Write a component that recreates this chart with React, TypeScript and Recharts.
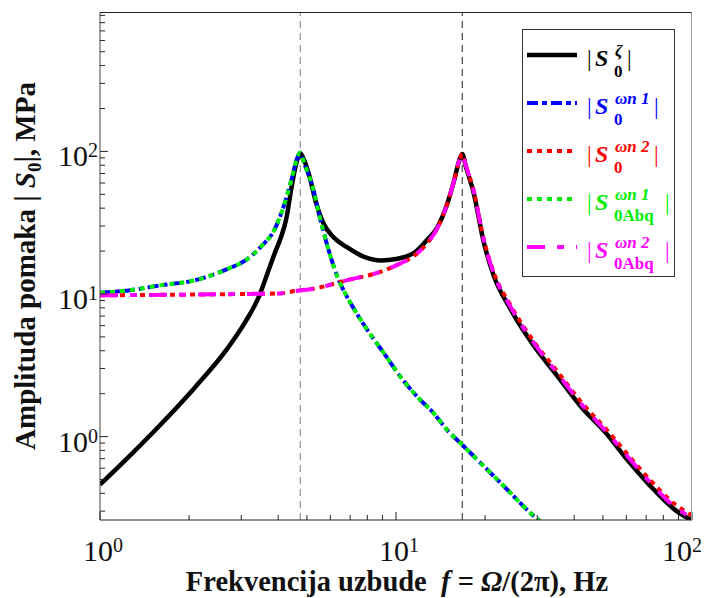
import React from 'react';
import { LineChart, Line, XAxis, YAxis, ReferenceLine } from 'recharts';

// frequency f (Hz) and amplitude |S0| (MPa)
const zetaF = [1, 1.25, 1.6, 2.1, 2.7, 3.1, 3.45, 3.6, 3.9, 4.1, 4.25, 4.45, 4.62, 4.75, 4.88, 5.05, 5.4, 5.7, 6.15, 6.85, 7.8, 8.9, 10, 11.5, 12.7, 13.8, 14.9, 15.7, 16.4, 16.75, 17.2, 18.3, 19.8, 21.4, 24.4, 29.3, 35, 42, 52, 60, 72, 87, 100];
const zetaS = [0.46, 0.72, 1.21, 2.23, 4.17, 6.4, 9.7, 12.3, 19.5, 25.5, 33, 58, 85, 97, 88, 72, 42, 31, 25, 21.2, 18.2, 17.2, 17.6, 19.4, 23.8, 29.4, 42.9, 62, 88, 96, 79, 51, 23, 13.4, 7.8, 4.3, 2.68, 1.64, 1.02, 0.7, 0.455, 0.31, 0.258];

const wn1F = [1, 1.25, 1.6, 2.1, 2.7, 3.1, 3.5, 3.9, 4.2, 4.45, 4.62, 4.75, 4.9, 5.1, 5.27, 5.5, 5.7, 6.0, 6.4, 6.84, 7.4, 8, 9.1, 10.35, 11.8, 13.4, 14.9, 16.75, 22.6, 29.7, 31];
const wn1S = [10.2, 10.6, 11.5, 12.5, 15, 17.2, 21.5, 28.7, 42.9, 65, 88, 98, 82, 66, 53, 36, 27, 18.5, 12.6, 9.5, 7.2, 5.6, 3.85, 2.63, 1.9, 1.46, 1.11, 0.875, 0.472, 0.269, 0.25];
const wn1AbqS = [10.2, 10.6, 11.5, 12.5, 15, 17.2, 21.5, 28.7, 42.9, 65, 88, 98, 82, 66, 53, 36, 27, 18.5, 12.6, 9.5, 7.2, 5.6, 3.85, 2.63, 1.9, 1.46, 1.11, 0.875, 0.472, 0.269, 0.25];

const wn2F = [1, 1.5, 2, 3, 4.06, 4.57, 5.27, 6.84, 8.86, 10.1, 11.5, 12.7, 13.8, 14.9, 15.7, 16.4, 16.75, 17.2, 18.3, 19.8, 21.4, 24.4, 29.3, 35.1, 42.1, 51.8, 60.6, 72.6, 87.1, 100];
const wn2S = [9.8, 9.85, 9.9, 10, 10.1, 10.5, 10.9, 12.5, 14.3, 16, 18.5, 22.5, 29, 42.9, 62, 88, 96, 80, 53, 24, 14.1, 8.3, 4.6, 2.86, 1.76, 1.1, 0.75, 0.49, 0.338, 0.28];
const wn2AbqS = [9.8, 9.85, 9.9, 10, 10.1, 10.5, 10.9, 12.5, 14.3, 16, 18.5, 22.5, 29, 42.9, 62, 88, 96, 80, 53, 23.8, 13.9, 8.1, 4.5, 2.78, 1.71, 1.06, 0.725, 0.472, 0.324, 0.269];

const natF = [4.75, 16.75];

const xTicks = [1, 2, 3, 4, 5, 6, 7, 8, 9, 10, 20, 30, 40, 50, 60, 70, 80, 90, 100];
const yTicks = [0.3, 0.4, 0.5, 0.6, 0.7, 0.8, 0.9, 1, 2, 3, 4, 5, 6, 7, 8, 9, 10, 20, 30, 40, 50, 60, 70, 80, 90, 100, 200, 300, 400, 500, 600, 700, 800, 900];

const pts = (f: number[], s: number[]) => f.map((x, i) => ({ f: x, s: s[i] }));

const series = [
  { key: 'zeta', data: pts(zetaF, zetaS), color: '#000000', width: 4.5, dash: undefined, sup: 'ζ', sub: '0', close: 627 },
  { key: 'wn1', data: pts(wn1F, wn1S), color: '#0000ff', width: 4, dash: '11 4 5 4', sup: 'ωn 1', sub: '0', close: 654 },
  { key: 'wn2', data: pts(wn2F, wn2S), color: '#ff0000', width: 4, dash: '5 5', sup: 'ωn 2', sub: '0', close: 654 },
  { key: 'wn1Abq', data: pts(wn1F, wn1AbqS), color: '#00ee00', width: 4, dash: '5 5', sup: 'ωn 1', sub: '0Abq', close: 665 },
  { key: 'wn2Abq', data: pts(wn2F, wn2AbqS), color: '#ff00ff', width: 4, dash: '18 12 7 12', sup: 'ωn 2', sub: '0Abq', close: 665 },
];

const serif = { fontFamily: "'Liberation Serif', 'Times New Roman', Times, serif" };

const isMajor = (v: number) => {
  const l = Math.log10(v);
  return Math.abs(l - Math.round(l)) < 1e-6;
};

const XTick = (props: any) => {
  const { x, y, payload } = props;
  const v = payload.value;
  const major = isMajor(v);
  // last label is pulled in so it stays on the page
  const left = v >= 100 ? x - 30 : x - 17;
  return (
    <g>
      <line x1={x} x2={x} y1={y} y2={y - (major ? 8 : 5)} stroke="#222" strokeWidth={1} />
      {major && (
        <text x={left} y={y + 41} style={serif} fontSize={30} fill="#111">
          10<tspan dy={-9} fontSize={20}>{Math.round(Math.log10(v))}</tspan>
        </text>
      )}
    </g>
  );
};

const YTick = (props: any) => {
  const { x, y, payload } = props;
  const v = payload.value;
  const major = isMajor(v);
  return (
    <g>
      <line x1={x} x2={x + (major ? 8 : 5)} y1={y} y2={y} stroke="#222" strokeWidth={1} />
      {major && (
        <text x={x - 2} y={y + 15} textAnchor="end" style={serif} fontSize={30} fill="#111">
          10<tspan dy={-9} fontSize={20}>{Math.round(Math.log10(v))}</tspan>
        </text>
      )}
    </g>
  );
};

const rowY = [55, 103, 151, 199, 247];

const Overlay = () => (
  <svg width={709} height={598} style={{ position: 'absolute', left: 0, top: 0, pointerEvents: 'none' }}>
    <line x1={100} x2={692} y1={12.5} y2={12.5} stroke="#222" strokeWidth={1} />
    <line x1={691.5} x2={691.5} y1={12} y2={520} stroke="#999" strokeWidth={1} />
    <rect x={522.5} y={29.5} width={152} height={247} fill="#fff" stroke="#333" strokeWidth={1} />
    {series.map((s, i) => {
      const y = rowY[i];
      return (
        <g key={s.key} fill={s.color} style={serif}>
          <line x1={527} x2={577} y1={y} y2={y} stroke={s.color} strokeWidth={s.width} strokeDasharray={s.dash} />
          <text x={587} y={y + 11} fontSize={23}>|</text>
          <text x={595} y={y + 11} fontSize={24} fontWeight="bold" fontStyle="italic">S</text>
          <text x={615} y={y + 1} fontSize={17} fontWeight="bold" fontStyle="italic" xmlSpace="preserve">{s.sup}</text>
          <text x={614} y={y + 22} fontSize={17} fontWeight="bold">{s.sub}</text>
          <text x={s.close} y={y + 11} fontSize={23}>|</text>
        </g>
      );
    })}
    <text x={397} y={591} textAnchor="middle" style={serif} fontSize={28.5} fontWeight="bold" fill="#111" xmlSpace="preserve">
      Frekvencija uzbude  <tspan fontStyle="italic">f</tspan> = <tspan fontStyle="italic">Ω</tspan>/(2π), Hz
    </text>
    <text x={35} y={266} transform="rotate(-90 35 266)" textAnchor="middle" style={serif} fontSize={29} fontWeight="bold" fill="#111" xmlSpace="preserve">
      Amplituda pomaka | <tspan fontStyle="italic">S</tspan><tspan dy={6} fontSize={19}>0</tspan><tspan dy={-6}>|, MPa</tspan>
    </text>
  </svg>
);

export default function App() {
  return (
    <div style={{ position: 'relative', width: 709, height: 598, background: '#fff' }}>
      <style>{'body{margin:0}'}</style>
      <LineChart width={709} height={598} margin={{ top: 12, right: 17, bottom: 0, left: 0 }}>
        <XAxis
          type="number"
          dataKey="f"
          scale="log"
          domain={[1, 100]}
          ticks={xTicks}
          interval={0}
          allowDataOverflow
          height={78}
          tickSize={0}
          tickMargin={0}
          tickLine={false}
          tick={<XTick />}
          axisLine={{ stroke: '#222' }}
        />
        <YAxis
          type="number"
          dataKey="s"
          scale="log"
          domain={[0.26, 950]}
          ticks={yTicks}
          interval={0}
          allowDataOverflow
          width={100}
          tickSize={0}
          tickMargin={0}
          tickLine={false}
          tick={<YTick />}
          axisLine={{ stroke: '#444' }}
        />
        {natF.map((f, i) => (
          <ReferenceLine key={f} x={f} stroke={i === 0 ? '#999' : '#555'} strokeWidth={1.3} strokeDasharray="7 5" />
        ))}
        {series.map((s) => (
          <Line
            key={s.key}
            data={s.data}
            dataKey="s"
            type="monotone"
            stroke={s.color}
            strokeWidth={s.width}
            strokeDasharray={s.dash}
            dot={false}
            isAnimationActive={false}
          />
        ))}
      </LineChart>
      <Overlay />
    </div>
  );
}
